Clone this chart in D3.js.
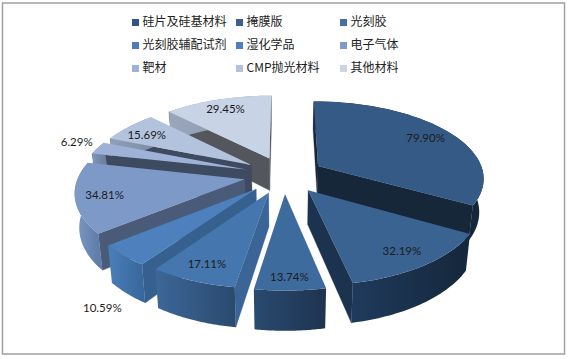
<!DOCTYPE html>
<html>
<head>
<meta charset="utf-8">
<script src="https://cdn.jsdelivr.net/npm/d3@7"></script>
<style>
  html, body { margin: 0; padding: 0; background: #fff; }
  svg { display: block; }
</style>
</head>
<body>
<svg id="chart" width="568" height="359"></svg>
<script>
const categories = ['硅片及硅基材料', '掩膜版', '光刻胶', '光刻胶辅配试剂', '湿化学品', '电子气体', '靶材', 'CMP抛光材料', '其他材料'];
const values = [79.9, 32.19, 13.74, 17.11, 10.59, 34.81, 6.29, 15.69, 29.45];
const valueLabels = ['79.90%', '32.19%', '13.74%', '17.11%', '10.59%', '34.81%', '6.29%', '15.69%', '29.45%'];

// colours per slice
const topColors = ['#355a85', '#3a6391', '#3e6b9e', '#4676ae', '#4d80bc', '#7c99c7', '#9db2d6', '#b3c2dd', '#c9d3e6'];
const legendColors = ['#2f5582', '#39608f', '#45719f', '#4a7db8', '#4c80bb', '#7f9bc9', '#9cb1d6', '#b2c1dd', '#cbd5e8'];
const wallColors = ['#16273a', '#1c3350', '#27466b', '#3a6596', '#36608e', '#4a5b7a', '#3d4a60', '#3f4a60', '#53565c'];
const rimLeft = ['#1a2d44', '#1f3a5c', '#2a4a70', '#3d6798', '#4a7fb8', '#7b9ac8', '#7f96bb', '#8e9fbc', '#9aa6bc'];
const rimRight = ['#15263a', '#15273a', '#1f3350', '#2a4a6f', '#38689c', '#5f7da8', '#6c80a0', '#7d8ea8', '#8a95a8'];

// label placement: fraction of the radius, and a turn from the slice middle
const labelRadius = [0.82, 0.82, 0.87, 0.83, 1.4, 0.83, 1.17, 0.82, 0.83];
const labelTurn = [0, 0, 0, 0, -12, 0, 2, -2, 0];

// back to front
const drawOrder = [0, 8, 7, 6, 5, 4, 1, 3, 2];

const cx = 284, cy = 175;
const radius = 166, squash = 0.46, explode = 40, depth = 33, persp = 0.0019;

const svg = d3.select('#chart');
const defs = svg.append('defs');

// frame
svg.append('rect')
  .attr('x', 2.5).attr('y', 3)
  .attr('width', 562).attr('height', 351)
  .attr('fill', '#fff')
  .attr('stroke', '#a0a0a0')
  .attr('stroke-width', 1.5);

const pie = d3.pie().sort(null).value(d => d);
const arcs = pie(values);

// disc coordinates -> screen, z = 0 on top, 1 at the bottom of the wall
function project(px, py, z) {
  const yy = py * squash;
  const s = 1 / (1 - persp * yy);
  return [cx + px * s * (1 - z * 0.022), cy + yy * s + z * depth * s];
}

function slicePoint(mid, a, r, z) {
  const px = explode * Math.sin(mid) + r * Math.sin(a);
  const py = -explode * Math.cos(mid) - r * Math.cos(a);
  return project(px, py, z);
}

const line = d3.line().curve(d3.curveLinear);

function signedArea(pts) {
  let sum = 0;
  pts.forEach((p, i) => {
    const q = pts[(i + 1) % pts.length];
    sum += p[0] * q[1] - q[0] * p[1];
  });
  return sum / 2;
}

drawOrder.forEach(i => {
  const d = arcs[i];
  const mid = (d.startAngle + d.endAngle) / 2;
  const steps = d3.range(0, 41).map(k => d.startAngle + (d.endAngle - d.startAngle) * k / 40);
  const rim = steps.map(a => slicePoint(mid, a, radius, 0));
  const rimLow = steps.map(a => slicePoint(mid, a, radius, 1));
  const apex = slicePoint(mid, 0, 0, 0);
  const apexLow = slicePoint(mid, 0, 0, 1);
  const g = svg.append('g');

  // radial walls, only those that face the viewer
  const walls = [
    [apex, apexLow, rimLow[0], rim[0]],
    [apex, rim[40], rimLow[40], apexLow]
  ];
  walls.forEach(w => {
    if (signedArea(w) > 0) {
      g.append('path')
        .attr('d', line(w) + 'Z')
        .attr('fill', wallColors[i])
        .attr('stroke', wallColors[i])
        .attr('stroke-width', 0.3);
    }
  });

  // outer wall with a left to right shade
  const xs = d3.extent(rim, p => p[0]);
  const grad = defs.append('linearGradient')
    .attr('id', 'rim' + i)
    .attr('gradientUnits', 'userSpaceOnUse')
    .attr('x1', xs[0]).attr('x2', xs[1])
    .attr('y1', 0).attr('y2', 0);
  grad.append('stop').attr('offset', 0).attr('stop-color', rimLeft[i]);
  grad.append('stop').attr('offset', 1).attr('stop-color', rimRight[i]);
  g.append('path')
    .attr('d', line(rim.concat(rimLow.slice().reverse())) + 'Z')
    .attr('fill', 'url(#rim' + i + ')');

  // top face
  g.append('path')
    .attr('d', line([apex].concat(rim)) + 'Z')
    .attr('fill', topColors[i]);
});

// value labels
arcs.forEach((d, i) => {
  const mid = (d.startAngle + d.endAngle) / 2;
  const p = slicePoint(mid, mid + labelTurn[i] * Math.PI / 180, radius * labelRadius[i], 0);
  svg.append('text')
    .attr('x', p[0]).attr('y', p[1])
    .attr('text-anchor', 'middle')
    .attr('dominant-baseline', 'central')
    .attr('font-family', 'Lato, "Noto Sans", sans-serif')
    .attr('font-size', 11.5)
    .attr('fill', '#1c1c1c')
    .text(valueLabels[i]);
});

// legend, three columns
const legendX = d3.scaleOrdinal().domain([0, 1, 2]).range([132, 236, 340]);
const legendY = d3.scaleOrdinal().domain([0, 1, 2]).range([19, 42, 65]);
const legend = svg.selectAll('g.legend')
  .data(categories)
  .join('g')
  .attr('class', 'legend')
  .attr('transform', (d, i) => `translate(${legendX(i % 3)},${legendY(Math.floor(i / 3))})`);
legend.append('rect')
  .attr('x', 0).attr('y', 0)
  .attr('width', 7).attr('height', 7)
  .attr('fill', (d, i) => legendColors[i]);
legend.append('text')
  .attr('x', 10.5).attr('y', 1)
  .attr('dominant-baseline', 'central')
  .attr('font-family', '"Noto Sans CJK SC", sans-serif')
  .attr('font-size', 12)
  .attr('fill', '#222')
  .text(d => d);
</script>
</body>
</html>
